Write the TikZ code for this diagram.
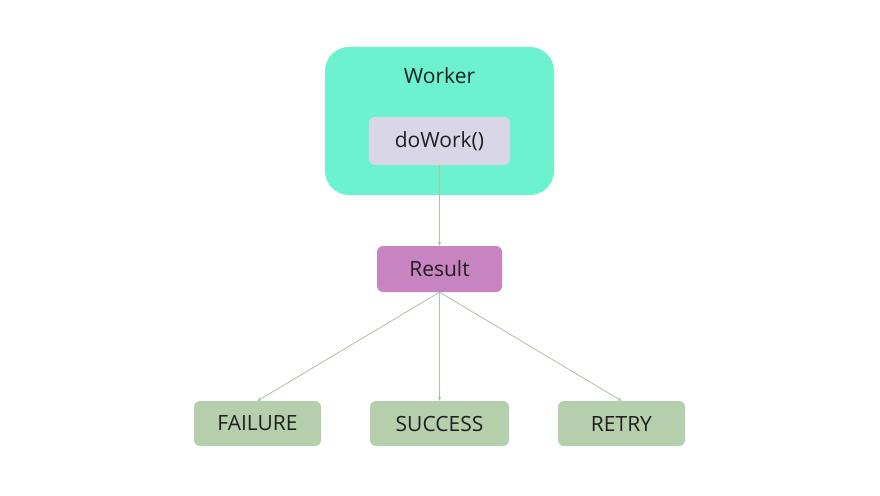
\documentclass[tikz,border=0pt]{standalone}
\usepackage{fontspec}
\setmainfont{Open Sans}
\usetikzlibrary{arrows.meta}
\definecolor{workerc}{HTML}{6CF2CF}
\definecolor{funcc}{HTML}{D9D6E8}
\definecolor{resc}{HTML}{C784C0}
\definecolor{outc}{HTML}{B5CFAC}
\definecolor{linec}{HTML}{A8C4A0}
\tikzset{
  lbl/.style={font=\fontsize{21}{24}\selectfont, text=black!88},
  box/.style={lbl, rounded corners=6pt, inner sep=0pt},
  conn/.style={draw=linec, line width=0.8pt, -{Stealth[length=4pt,width=3.5pt]}},
}
\begin{document}
\begin{tikzpicture}[x=1pt,y=-1pt]
\useasboundingbox[fill=white] (0,0) rectangle (880,495);
\node[box, fill=workerc, rounded corners=24pt, minimum width=229pt, minimum height=148pt] (worker) at (439.5,121) {};
\node[lbl] (wlabel) at (439.5,76) {Worker};
\node[box, fill=funcc, minimum width=141pt, minimum height=48pt] (dowork) at (439.5,141) {doWork()};
\node[box, fill=resc, minimum width=125pt, minimum height=46pt] (result) at (439.5,269) {Result};
\node[box, fill=outc, minimum width=127pt, minimum height=45pt] (failure) at (257.5,423.5) {FAILURE};
\node[box, fill=outc, minimum width=139pt, minimum height=45pt] (success) at (439.5,423.5) {SUCCESS};
\node[box, fill=outc, minimum width=127pt, minimum height=45pt] (retry) at (621.5,423.5) {RETRY};
\draw[conn] (dowork.south) -- (result.north);
\draw[conn] (result.south) -- (failure.north);
\draw[conn] (result.south) -- (success.north);
\draw[conn] (result.south) -- (retry.north);
\end{tikzpicture}
\end{document}
